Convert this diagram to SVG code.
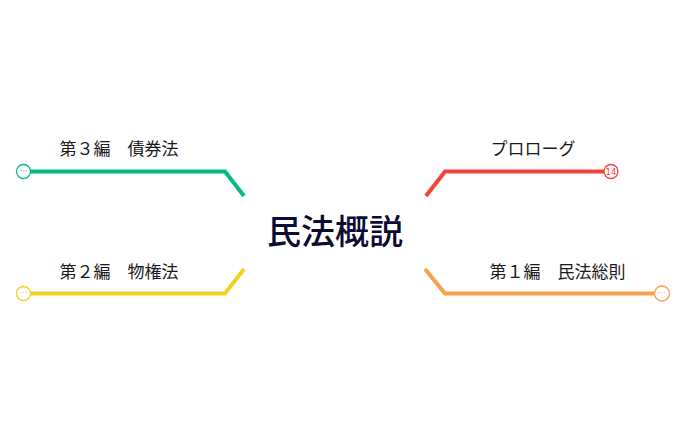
<svg xmlns="http://www.w3.org/2000/svg" width="686" height="425" viewBox="0 0 686 425">
<style>
.t{font-family:"Noto Sans CJK JP","Noto Sans CJK SC",sans-serif;font-size:17px;fill:#1a1a1a;text-anchor:middle}
.c{font-family:"Noto Sans CJK JP","Noto Sans CJK SC",sans-serif;font-size:34px;font-weight:500;fill:#0b0b33;text-anchor:middle}
.ln{fill:none;stroke-width:4;stroke-linejoin:miter}
.dot{fill:#fff;stroke-width:1.3}
.d{font-family:"DejaVu Sans",sans-serif;font-size:8px;text-anchor:middle}
</style>
<rect width="686" height="425" fill="#fff"/>
<g id="connectors">
<path class="ln" stroke="#05bb78" d="M28,171.5 H225 L244,196"/>
<path class="ln" stroke="#f1d224" d="M28,293.5 H225 L244,269"/>
<path class="ln" stroke="#f5423a" d="M426,196 L445,171.5 H604"/>
<path class="ln" stroke="#f7a24c" d="M425,269 L445,293.5 H655"/>
</g>
<g id="root"><text class="c" x="335" y="244">民法概説</text></g>
<g id="n3">
<text class="t" x="119" y="154.5">第３編　債券法</text>
<circle class="dot" stroke="#05bb78" cx="23.5" cy="171.5" r="7"/>
<text class="d" x="23.5" y="174" fill="#05bb78">···</text>
</g>
<g id="n2">
<text class="t" x="119" y="278">第２編　物権法</text>
<circle class="dot" stroke="#f1d224" cx="23.5" cy="293.5" r="7"/>
<text class="d" x="23.5" y="296" fill="#f1d224">···</text>
</g>
<g id="n0">
<text class="t" x="533" y="154.5">プロローグ</text>
<circle class="dot" stroke="#f5423a" cx="611" cy="171.5" r="7"/>
<text class="d" x="611" y="174.5" fill="#f5423a" style="font-size:8.5px">14</text>
</g>
<g id="n1">
<text class="t" x="557.5" y="278">第１編　民法総則</text>
<circle class="dot" stroke="#f7a24c" cx="662" cy="293.5" r="7.5"/>
<text class="d" x="662" y="296" fill="#f7a24c">···</text>
</g>
</svg>
